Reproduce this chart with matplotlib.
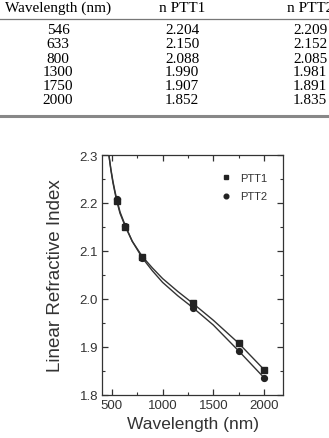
import matplotlib.pyplot as plt
from matplotlib.lines import Line2D
from matplotlib.ticker import MultipleLocator

# table / measured data
wavelength = [546, 633, 800, 1300, 1750, 2000]
n_ptt1 = [2.204, 2.150, 2.088, 1.990, 1.907, 1.852]
n_ptt2 = [2.209, 2.152, 2.085, 1.981, 1.891, 1.835]

# fitted dispersion curves
fit_wl = [470, 490, 510, 530, 546, 580, 633, 700, 800, 900, 1000, 1150, 1300, 1500, 1750, 2000]
fit_ptt1 = [2.300, 2.268, 2.242, 2.221, 2.205, 2.178, 2.150, 2.120, 2.088, 2.064, 2.042,
            2.015, 1.990, 1.955, 1.907, 1.852]
fit_ptt2 = [2.300, 2.270, 2.245, 2.224, 2.209, 2.181, 2.152, 2.120, 2.085, 2.058, 2.034,
            2.006, 1.981, 1.945, 1.891, 1.835]

W, H = 329, 439
fig = plt.figure(figsize=(W / 100, H / 100), dpi=100)

# ---- table on top ----
serif = ['Liberation Serif', 'DejaVu Serif']
col_x = [58, 182, 310]
headers = ['Wavelength (nm)', 'n PTT1', 'n PTT2']
for x, h in zip(col_x, headers):
    fig.text(x / W, 1 - 8 / H, h, ha='center', va='center', family=serif, fontsize=11)
fig.add_artist(Line2D([0, 1], [1 - 20 / H, 1 - 20 / H], color='#777777', lw=0.9))
row_y = [31, 45, 59.5, 73, 87, 101]
for i, y in enumerate(row_y):
    vals = [str(wavelength[i]), '%.3f' % n_ptt1[i], '%.3f' % n_ptt2[i]]
    for x, v in zip(col_x, vals):
        fig.text(x / W, 1 - y / H, v, ha='center', va='center', family=serif, fontsize=11)
fig.add_artist(Line2D([0, 1], [1 - 116.5 / H, 1 - 116.5 / H], color='#888888', lw=2.2))

# ---- chart ----
sans = ['Liberation Sans', 'DejaVu Sans']
ax = fig.add_axes([102.3 / W, 1 - 395.5 / H, 181 / W, 239.5 / H])
ax.plot(fit_wl, fit_ptt1, color='#333333', lw=1.0)
ax.plot(fit_wl, fit_ptt2, color='#333333', lw=1.0)
ax.plot(wavelength, n_ptt1, 's', color='#222222', ms=4.2, label='PTT1')
ax.plot(wavelength, n_ptt2, 'o', color='#222222', ms=4.2, label='PTT2')

ax.set_xlim(405, 2190)
ax.set_ylim(1.8, 2.3)
ax.xaxis.set_major_locator(MultipleLocator(500))
ax.xaxis.set_minor_locator(MultipleLocator(250))
ax.yaxis.set_major_locator(MultipleLocator(0.1))
ax.yaxis.set_minor_locator(MultipleLocator(0.05))
ax.tick_params(which='both', direction='in', top=True, right=True, colors='#333333',
               labelcolor='#333333')
ax.tick_params(which='major', length=4, width=0.9, labelsize=9.5, pad=3)
ax.tick_params(which='minor', length=2.5, width=0.8)
for lab in ax.get_xticklabels() + ax.get_yticklabels():
    lab.set_family(sans)
for s in ax.spines.values():
    s.set_color('#333333')
    s.set_linewidth(0.9)

ax.set_xlabel('Wavelength (nm)', family=sans, fontsize=12.5, color='#333333', labelpad=4)
ax.set_ylabel('Linear Refractive Index', family=sans, fontsize=13.5, color='#333333', labelpad=11)

leg = ax.legend(loc='upper right', bbox_to_anchor=(1 - 5 / 181, 1 - 7 / 239.5), frameon=False,
                prop={'family': sans, 'size': 8}, markerscale=0.8,
                handletextpad=0.8, labelspacing=0.75, borderaxespad=0.6,
                handlelength=1.0, labelcolor='#333333')

fig.savefig('out.png', dpi=100)
